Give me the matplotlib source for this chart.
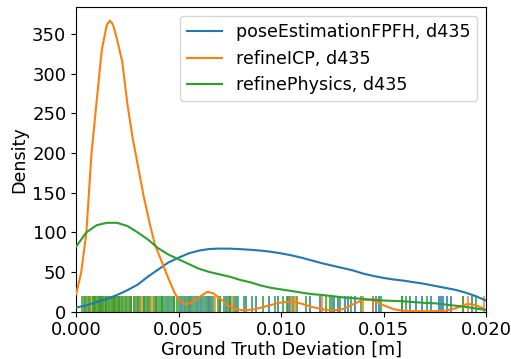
import matplotlib
matplotlib.use("Agg")
import matplotlib.pyplot as plt

# ── KDE curves (x in m, density) ─────────────────────────────────────────
BLUE_X = [0.0, 0.0005, 0.001, 0.0015, 0.002, 0.0025, 0.003, 0.0035, 0.004,
          0.0045, 0.005, 0.0055, 0.006, 0.0065, 0.007, 0.0075, 0.008, 0.0085,
          0.009, 0.0095, 0.01, 0.0105, 0.011, 0.0115, 0.012, 0.0125, 0.013,
          0.0135, 0.014, 0.0145, 0.015, 0.0155, 0.016, 0.0165, 0.017, 0.0175,
          0.018, 0.0185, 0.019, 0.0195, 0.02]
BLUE_Y = [5, 8, 12, 16, 21, 27, 34, 44, 53, 62, 68, 73.5, 77, 79, 79.5, 79.4,
          78.8, 78, 77, 75.5, 73.5, 71, 68, 64.5, 61, 58, 55, 52, 48, 45, 42.5,
          40.5, 39, 37, 35, 32.5, 30, 27.5, 24, 19.5, 14]

ORANGE_X = [0.0, 0.00025, 0.0005, 0.00075, 0.001, 0.00125, 0.0015, 0.00165,
            0.0018, 0.002, 0.00225, 0.0025, 0.00275, 0.003, 0.0033, 0.0036,
            0.00385, 0.0041, 0.0043, 0.0045, 0.0048, 0.005, 0.0053, 0.0056,
            0.006, 0.0064, 0.0067, 0.007, 0.0074, 0.0078, 0.0082, 0.0087,
            0.0093, 0.0099, 0.0105, 0.011, 0.0115, 0.012, 0.0125, 0.013,
            0.0135, 0.014, 0.0145, 0.015, 0.0155, 0.016, 0.017, 0.018,
            0.0185, 0.019, 0.0193, 0.0197, 0.02]
ORANGE_Y = [22, 50, 100, 200, 265, 330, 362, 367, 362, 343, 315, 262, 220,
            186, 145, 110, 84, 68, 55, 42, 24, 15, 9, 11, 18, 25, 23, 17, 8,
            3, 1.5, 3, 7, 11, 13, 10, 6, 3, 1.5, 3, 9, 15, 14.5, 8, 3, 1,
            0.5, 1, 4, 9, 9.5, 6, 2]

GREEN_X = BLUE_X
GREEN_Y = [82, 100, 109, 112, 112, 108, 100, 91, 80, 72, 66, 60, 54, 50, 47,
           44, 40, 37, 33, 30, 28, 26, 24, 22, 21, 19.5, 18, 17, 16, 15, 14,
           13.5, 13, 12, 11, 10.5, 9, 7.5, 6, 4, 2]

# ── rug samples ──────────────────────────────────────────────────────────
BLUE_RUG = [0.0012, 0.0021, 0.0027, 0.0033, 0.0039, 0.0042, 0.0045, 0.0048,
            0.0051, 0.0053, 0.0056, 0.0059, 0.0061, 0.0064, 0.0066, 0.0070,
            0.0073, 0.0075, 0.0078, 0.0083, 0.0088, 0.0094, 0.00985, 0.01034,
            0.01044, 0.0114, 0.0119, 0.0126, 0.0128, 0.0131, 0.01325, 0.0136,
            0.01447, 0.01463, 0.0148, 0.0159, 0.0163, 0.0166, 0.0169, 0.0173,
            0.0177, 0.0178, 0.0179, 0.0181, 0.0183, 0.0193]
ORANGE_RUG = [0.00045, 0.00065, 0.00078, 0.00092, 0.00108, 0.00122, 0.00133,
              0.00148, 0.00162, 0.00177, 0.00192, 0.00203, 0.00222, 0.00242,
              0.00262, 0.00282, 0.00302, 0.00322, 0.00352, 0.00372, 0.00392,
              0.0055, 0.0065, 0.0068, 0.0076, 0.0105, 0.0107, 0.012, 0.0140,
              0.0145, 0.0189, 0.0191, 0.0199]
GREEN_RUG = [0.0003, 0.0004, 0.0005, 0.0006, 0.0007, 0.0008, 0.00085, 0.0009,
             0.001, 0.0011, 0.00115, 0.0012, 0.0013, 0.0014, 0.00145, 0.0015,
             0.0016, 0.0017, 0.0018, 0.00185, 0.0019, 0.002, 0.0021, 0.0022,
             0.0023, 0.0024, 0.0025, 0.0026, 0.0027, 0.0028, 0.0029, 0.003,
             0.0031, 0.0033, 0.0034, 0.0035, 0.0036, 0.0038, 0.0039, 0.004,
             0.0041, 0.0042, 0.0043, 0.0044, 0.0046, 0.0047, 0.0048, 0.0049,
             0.005, 0.0052, 0.0054, 0.0055, 0.0057, 0.0058, 0.006, 0.0062,
             0.0063, 0.0065, 0.0067, 0.0069, 0.007, 0.0072, 0.0074, 0.0075,
             0.0077, 0.0079, 0.0082, 0.0086, 0.0091, 0.0097, 0.0101, 0.0103,
             0.0106, 0.0108, 0.0112, 0.0122, 0.0124, 0.0125, 0.0129, 0.0134,
             0.0139, 0.0149, 0.0159, 0.0161, 0.0171, 0.0189, 0.0195]

LABELS = ["poseEstimationFPFH, d435", "refineICP, d435", "refinePhysics, d435"]
COLORS = ["#1f77b4", "#ff7f0e", "#2ca02c"]

FS = 12.6

fig = plt.figure(figsize=(5.11, 3.59), dpi=100)
ax = fig.add_axes([0.149, 0.132, 0.802, 0.848])

series = [
    (BLUE_X, BLUE_Y, BLUE_RUG),
    (ORANGE_X, ORANGE_Y, ORANGE_RUG),
    (GREEN_X, GREEN_Y, GREEN_RUG),
]
for (xs, ys, rug), lab, col in zip(series, LABELS, COLORS):
    ax.plot(xs, ys, color=col, lw=1.5, label=lab, zorder=3)
    ax.vlines(rug, 0, 0.05, transform=ax.get_xaxis_transform(),
              color=col, lw=1.1, zorder=2)

ax.set_xlim(0, 0.02)
ax.set_ylim(0, 384)
ax.set_xticks([0, 0.005, 0.01, 0.015, 0.02])
ax.set_yticks(range(0, 351, 50))
ax.tick_params(labelsize=13)
ax.set_xlabel("Ground Truth Deviation [m]", fontsize=FS, labelpad=1)
ax.set_ylabel("Density", fontsize=FS, labelpad=3)
ax.legend(loc="upper right", fontsize=FS)

fig.savefig("out.png", dpi=100)
